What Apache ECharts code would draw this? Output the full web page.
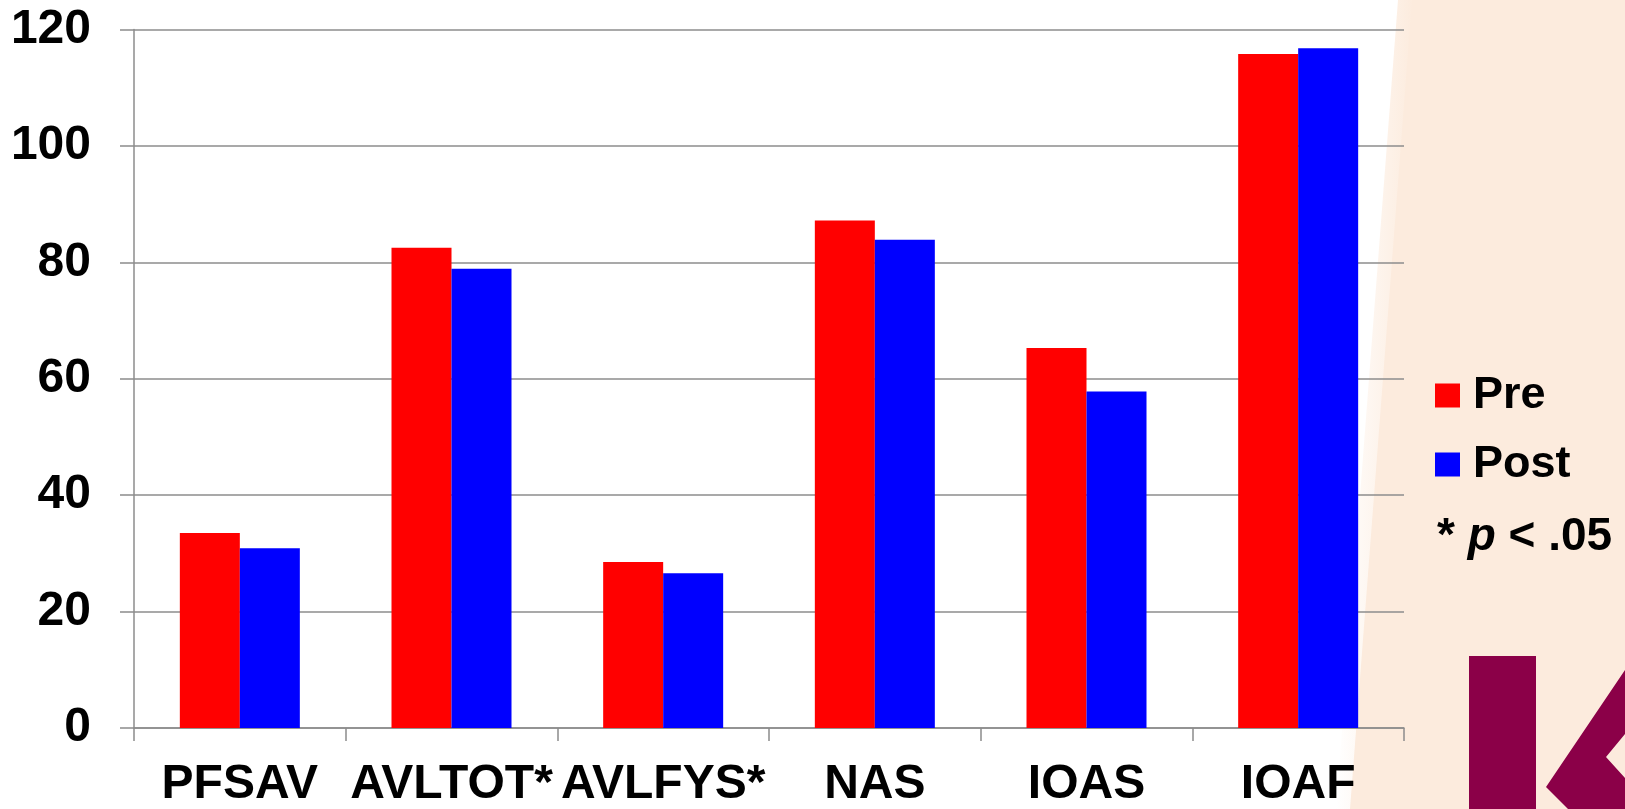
<!DOCTYPE html>
<html>
<head>
<meta charset="utf-8">
<script src="https://cdn.jsdelivr.net/npm/echarts@6/dist/echarts.min.js"></script>
<style>
  html, body { margin: 0; padding: 0; background: #ffffff; }
  #chart { width: 1625px; height: 809px; }
</style>
</head>
<body>
<div id="chart"></div>
<script>
// Category labels (asterisk marks p < .05)
const categories = ['PFSAV', 'AVLTOT*', 'AVLFYS*', 'NAS', 'IOAS', 'IOAF'];
// Mean scores before and after
const preValues = [33.5, 82.5, 28.5, 87.2, 65.3, 115.8];
const postValues = [30.9, 78.9, 26.6, 83.9, 57.8, 116.8];
// Value axis range
const yMin = 0;
const yMax = 120;
const yStep = 20;
const seriesNames = ['Pre', 'Post'];
const noteText = ['*', 'p', '< .05'];

const FONT = '"Liberation Sans", Arial, sans-serif';
const GRID_GRAY = '#8c8c8c';
const PEACH = '#fcebdd';
const MAROON = '#8b0048';

const chart = echarts.init(document.getElementById('chart'), null, { renderer: 'canvas' });

const option = {
  backgroundColor: '#ffffff',
  animation: false,
  grid: { left: 134, right: 221, top: 29.5, bottom: 76, containLabel: false },
  legend: {
    data: seriesNames,
    orient: 'vertical',
    left: 1435,
    top: 373,
    padding: 0,
    itemWidth: 25,
    itemHeight: 24,
    itemGap: 24,
    icon: 'rect',
    selectedMode: false,
    textStyle: {
      fontFamily: FONT,
      fontSize: 45,
      fontWeight: 'bold',
      color: '#000000',
      lineHeight: 45,
      padding: [0, 0, 0, 8]
    }
  },
  xAxis: {
    type: 'category',
    data: categories,
    axisLine: { show: true, lineStyle: { color: GRID_GRAY, width: 1.5 } },
    axisTick: { show: true, length: 13, lineStyle: { color: GRID_GRAY, width: 1.5 } },
    axisLabel: {
      interval: 0,
      hideOverlap: false,
      margin: 33,
      fontFamily: FONT,
      fontSize: 48,
      fontWeight: 'bold',
      color: '#000000'
    }
  },
  yAxis: {
    type: 'value',
    min: yMin,
    max: yMax,
    interval: yStep,
    axisLine: { show: true, lineStyle: { color: GRID_GRAY, width: 1.5 } },
    axisTick: { show: true, length: 14, lineStyle: { color: GRID_GRAY, width: 1.5 } },
    splitLine: { show: true, lineStyle: { color: GRID_GRAY, width: 1.5 } },
    axisLabel: {
      margin: 43,
      fontFamily: FONT,
      fontSize: 48,
      fontWeight: 'bold',
      color: '#000000'
    }
  },
  series: [
    {
      name: seriesNames[0],
      type: 'bar',
      data: preValues,
      barWidth: 60,
      barGap: '0%',
      itemStyle: { color: '#ff0000' }
    },
    {
      name: seriesNames[1],
      type: 'bar',
      data: postValues,
      barWidth: 60,
      barGap: '0%',
      itemStyle: { color: '#0000ff' }
    }
  ],
  graphic: [
    // peach panel on the right with a slanted left edge
    {
      type: 'polygon',
      z: -100,
      silent: true,
      shape: { points: [[1412, 0], [1625, 0], [1625, 809], [1350, 809]] },
      style: { fill: PEACH }
    },
    // soft fade along the slanted edge
    {
      type: 'polygon',
      z: -99,
      silent: true,
      shape: { points: [[1398, 0], [1414, 0], [1352, 809], [1336, 809]] },
      style: {
        fill: new echarts.graphic.LinearGradient(0, 0, 1, 0, [
          { offset: 0, color: 'rgba(252,235,221,0)' },
          { offset: 1, color: 'rgba(252,235,221,1)' }
        ])
      }
    },
    // logo: vertical stroke
    {
      type: 'rect',
      z: -50,
      silent: true,
      shape: { x: 1469, y: 656, width: 67, height: 160 },
      style: { fill: MAROON }
    },
    // logo: chevron
    {
      type: 'polygon',
      z: -50,
      silent: true,
      shape: {
        points: [[1625, 670], [1546, 787], [1568, 809], [1625, 809], [1625, 778], [1606, 757], [1625, 734]]
      },
      style: { fill: MAROON }
    },
    // significance note
    {
      type: 'text',
      z: 10,
      silent: true,
      x: 1437,
      y: 537,
      style: {
        text: '{a|' + noteText[0] + ' }{b|' + noteText[1] + '}{a| ' + noteText[2] + '}',
        verticalAlign: 'middle',
        rich: {
          a: { fontFamily: FONT, fontSize: 46, fontWeight: 'bold', fill: '#000000', color: '#000000' },
          b: { fontFamily: FONT, fontSize: 46, fontWeight: 'bold', fontStyle: 'italic', fill: '#000000', color: '#000000' }
        }
      }
    }
  ]
};

chart.setOption(option);
</script>
</body>
</html>
